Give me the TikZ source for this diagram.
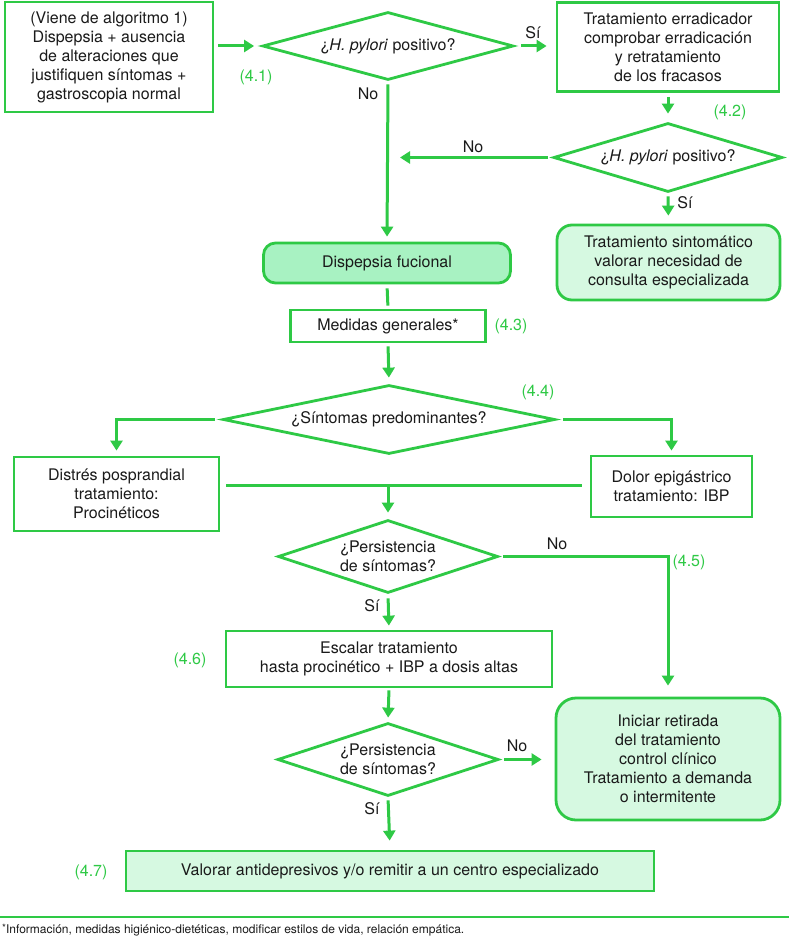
\documentclass[tikz,border=0pt]{standalone}
\usepackage{fontspec}
\setmainfont{TeX Gyre Heros}
\usetikzlibrary{shapes.geometric,arrows.meta}
\definecolor{gline}{HTML}{2EC945}
\definecolor{gdark}{HTML}{A8F2C2}
\definecolor{glight}{HTML}{D6F9E1}
\definecolor{ink}{HTML}{1A1A1A}
\begin{document}
\begin{tikzpicture}[x=1pt,y=-1pt,
  every node/.style={font=\fontsize{16}{19}\selectfont, text=ink},
  box/.style={draw=gline, line width=2.8pt, align=center, inner sep=0pt},
  rbox/.style={box, rounded corners=#1},
  dia/.style={draw=gline, line width=2.8pt, diamond, align=center, inner sep=0pt},
  arr/.style={draw=gline, line width=3pt, -{Triangle[width=12pt,length=10pt]}},
  ln/.style={draw=gline, line width=3pt},
  lbl/.style={text=gline},
]
\useasboundingbox[fill=white] (0,0) rectangle (789,942);

% nodes
\node[box, minimum width=208pt, minimum height=110pt] (b1) at (109,57) {(Viene de algoritmo 1)\\Dispepsia + ausencia\\de alteraciones que\\justifiquen síntomas +\\gastroscopia normal};
\node[dia, aspect=3.7, minimum width=251pt, minimum height=68pt] (d1) at (388,46) {¿\textit{H. pylori} positivo?};
\node[box, minimum width=222pt, minimum height=89pt] (b2) at (668,47) {Tratamiento erradicador\\comprobar erradicación\\y retratamiento\\de los fracasos};
\node[dia, aspect=3.3, minimum width=229pt, minimum height=69pt] (d2) at (668,157.5) {¿\textit{H. pylori} positivo?};
\node[rbox=15pt, fill=glight, minimum width=223pt, minimum height=75pt] (b3) at (668.5,262.5) {Tratamiento sintomático\\valorar necesidad de\\consulta especializada};
\node[rbox=12pt, fill=gdark, minimum width=247pt, minimum height=40pt] (disp) at (387,263) {Dispepsia fucional};
\node[box, minimum width=195pt, minimum height=32pt] (med) at (388,326) {Medidas generales*};
\node[dia, aspect=4.5, minimum width=332pt, minimum height=69pt] (d3) at (389,419.5) {¿Síntomas predominantes?};
\node[box, minimum width=205pt, minimum height=74pt] (dist) at (116.5,494) {Distrés posprandial\\tratamiento:\\Procinéticos};
\node[box, minimum width=161pt, minimum height=61pt] (dolor) at (671.5,486.5) {Dolor epigástrico\\tratamiento: IBP};
\coordinate (m) at (388,485);
\node[dia, aspect=3, minimum width=220pt, minimum height=73pt] (d4) at (388,556.5) {¿Persistencia\\de síntomas?};
\node[box, minimum width=326pt, minimum height=56pt] (esc) at (389,659) {Escalar tratamiento\\hasta procinético + IBP a dosis altas};
\node[dia, aspect=3, minimum width=221pt, minimum height=73pt] (d5) at (388,759.5) {¿Persistencia\\de síntomas?};
\node[rbox=20pt, fill=glight, minimum width=224pt, minimum height=122pt] (ini) at (668,759) {Iniciar retirada\\del tratamiento\\control clínico\\Tratamiento a demanda\\o intermitente};
\node[box, fill=glight, minimum width=528pt, minimum height=40pt] (bot) at (390,871) {Valorar antidepresivos y/o remitir a un centro especializado};
\coordinate (j1) at (388,157.5);

% labels
\node[lbl] (l41) at (256,77) {(4.1)};
\node (si1) at (533,33) {Sí};
\node (no1) at (368,94) {No};
\node[lbl] (l42) at (730,112) {(4.2)};
\node (no2) at (473,147) {No};
\node (si2) at (685,203) {Sí};
\node[lbl] (l43) at (511,326) {(4.3)};
\node[lbl] (l44) at (538,392) {(4.4)};
\node (no4) at (557,544) {No};
\node[lbl] (l45) at (689,562) {(4.5)};
\node (si4) at (372,606) {Sí};
\node[lbl] (l46) at (190,660) {(4.6)};
\node (no5) at (517,746) {No};
\node (si5) at (372,809) {Sí};
\node[lbl] (l47) at (91,872) {(4.7)};

% connectors
\draw[arr, shorten <=4pt, shorten >=7pt] (b1.east |- d1.west) -- (d1.west);
\draw[arr, shorten <=6pt, shorten >=9pt] (d1.east) -- (b2.west |- d1.east);
\draw[arr, shorten <=4pt, shorten >=8pt] (b2.south) -- (d2.north);
\draw[arr, shorten <=4pt, shorten >=12pt] (d2.west) -- (j1);
\draw[arr, shorten <=3pt, shorten >=8pt] (d2.south) -- (b3.north);
\draw[arr, shorten <=3pt, shorten >=5pt] (d1.south) -- (disp.north);
\draw[ln, shorten <=4pt, shorten >=3pt] (disp.south) -- (med.north);
\draw[arr, shorten <=3pt, shorten >=6pt] (med.south) -- (d3.north);
\draw[arr, shorten <=7pt, shorten >=5pt] (d3.west) -| (dist.north);
\draw[arr, shorten <=7pt, shorten >=4pt] (d3.east) -| (dolor.north);
\draw[ln, shorten <=6pt, shorten >=8pt] (dist.east |- m) -- (dolor.west |- m);
\draw[arr, shorten >=6pt] (m) -- (d4.north);
\draw[arr, shorten <=4pt, shorten >=11pt] (d4.east) -| (ini.north);
\draw[arr, shorten <=4pt, shorten >=4pt] (d4.south) -- (esc.north);
\draw[arr, shorten <=2pt, shorten >=4pt] (esc.south) -- (d5.north);
\draw[arr, shorten <=4pt, shorten >=13pt] (d5.east) -- (ini.west |- d5.east);
\draw[arr, shorten <=3pt, shorten >=9pt] (d5.south) -- (bot.north);

% footnote
\coordinate (fl) at (0,917);
\coordinate (fr) at (789,917);
\draw[gline, line width=1.5pt] (fl) -- (fr);
\node[anchor=west, font=\fontsize{12}{14}\selectfont, inner sep=0pt] (fn) at (2,930) {\raisebox{2pt}{\fontsize{10}{12}\selectfont *}Información, medidas higiénico-dietéticas, modificar estilos de vida, relación empática.};
\end{tikzpicture}
\end{document}
